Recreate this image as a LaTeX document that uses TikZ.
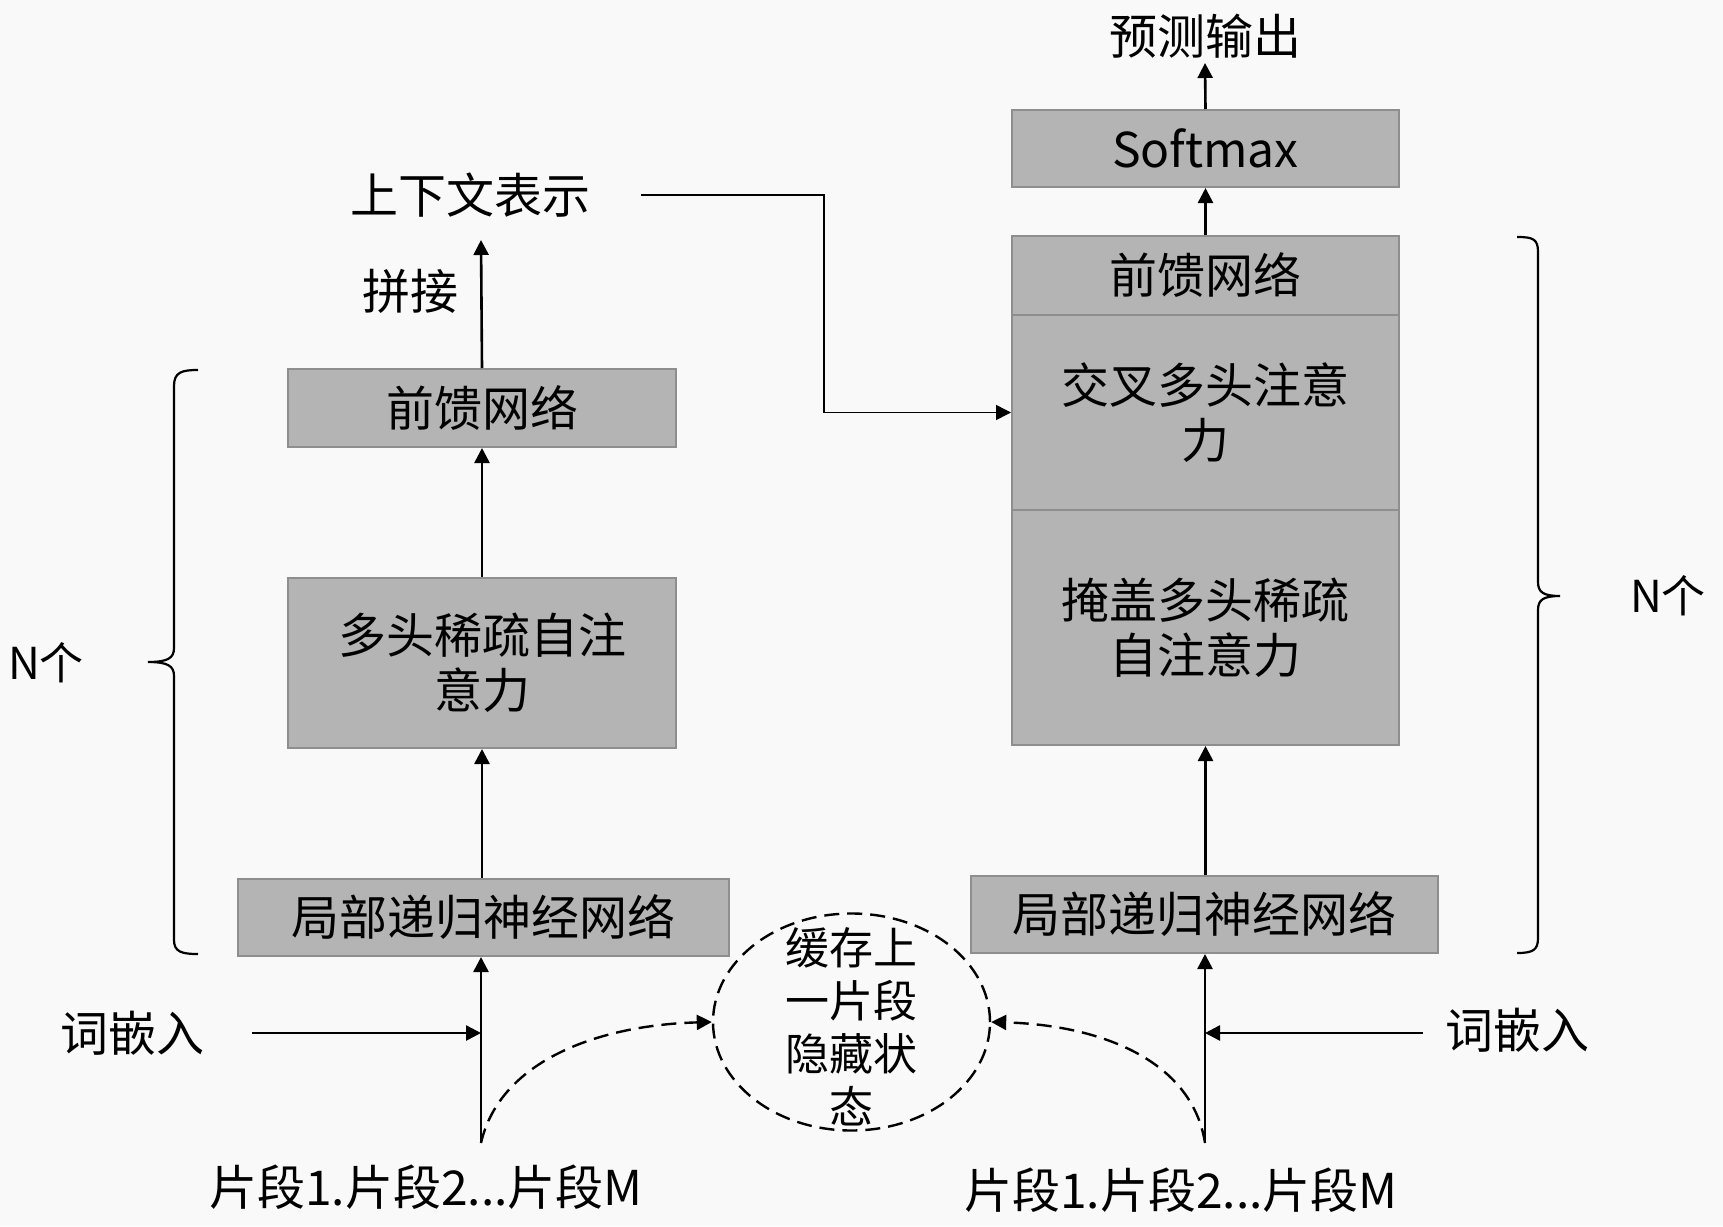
\documentclass[tikz,border=0pt]{standalone}
\usepackage{fontspec}
\setmainfont{Noto Sans CJK SC}
\usetikzlibrary{shapes.geometric,arrows.meta,calc}
\definecolor{bg}{HTML}{F9F9F9}
\definecolor{boxfill}{HTML}{B4B4B4}
\definecolor{boxline}{HTML}{8E8E8E}
\begin{document}
\begin{tikzpicture}[x=0.5pt,y=-0.5pt,
  box/.style={draw=boxline, fill=boxfill, line width=1pt, inner sep=0pt, align=center,
    font=\fontsize{24}{27.5}\selectfont},
  lbl/.style={inner sep=0pt, align=center, font=\fontsize{24}{28}\selectfont},
  arr/.style={-{Triangle[length=7.5pt,width=7.5pt]}, line width=1.3pt},
  thinarr/.style={-{Triangle[length=7.5pt,width=7.5pt]}, line width=0.75pt},
  dasharr/.style={-{Triangle[length=7.5pt,width=7.5pt]}, line width=1.2pt, dash pattern=on 7.5pt off 4pt},
  bracepath/.style={line width=1.1pt}
]
\path[fill=bg] (0,0) rectangle (1723,1226);
\useasboundingbox (0,0) rectangle (1723,1226);

% ---------- left column ----------
\node[lbl] (ctx) at (470,195) {上下文表示};
\node[lbl] (pj) at (410,291) {拼接};
\coordinate (ctxin) at (481,240);
\node[box, minimum width=194pt, minimum height=39pt] (lff) at (482,408) {前馈网络};
\node[box, minimum width=194pt, minimum height=85pt] (lmh) at (482,663) {多头稀疏自注\\意力};
\node[box, minimum width=245.5pt, minimum height=38.5pt] (llr) at (483.5,917.5) {局部递归神经网络};
\node[lbl] (lwetxt) at (132,1033) {词嵌入};
\coordinate (lwe) at (252,1033);
\coordinate (ljoin) at (481,1033);
\coordinate (lsrc) at (481,1143);
\node[lbl] (lseg) at (426,1187) {片段1.片段2...片段M};

\draw[arr] (lff.north) -- (ctxin);
\draw[arr] (lmh.north) -- (lff.south);
\draw[arr] (llr.north -| lmh.south) -- (lmh.south);
\draw[arr] (lsrc) -- (lsrc |- llr.south);
\draw[arr] (lwe) -- (ljoin);

% ---------- right column ----------
\node[lbl] (pred) at (1205,36) {预测输出};
\coordinate (predin) at (1205,63);
\node[box, minimum width=193.5pt, minimum height=38.5pt] (soft) at (1205.5,148.5) {Softmax};
\node[box, minimum width=193.5pt, minimum height=39.5pt] (rff) at (1205.5,275.5) {前馈网络};
\node[box, minimum width=193.5pt, minimum height=97.5pt] (rca) at (1205.5,412.5) {交叉多头注意\\力};
\node[box, minimum width=193.5pt, minimum height=117.5pt] (rmk) at (1205.5,627.5) {掩盖多头稀疏\\自注意力};
\node[box, minimum width=233.5pt, minimum height=38.5pt] (rlr) at (1204.5,914.5) {局部递归神经网络};
\node[lbl] (rwetxt) at (1517,1030) {词嵌入};
\coordinate (rwe) at (1423,1033);
\coordinate (rjoin) at (1205,1033);
\coordinate (rsrc) at (1205,1143);
\node[lbl] (rseg) at (1181,1190) {片段1.片段2...片段M};

\draw[arr] (soft.north) -- (predin);
\draw[arr] (rff.north) -- (soft.south);
\draw[arr] (rlr.north -| rmk.south) -- (rmk.south);
\draw[arr] (rsrc) -- (rsrc |- rlr.south);
\draw[arr] (rwe) -- (rjoin);

% context connector
\draw[thinarr] ($(ctx.east)+(51,0)$) -| ($(rca.west)+(-187,0)$) -- (rca.west);

% ---------- cache ellipse ----------
\node[ellipse, draw, line width=1.2pt, dash pattern=on 7.5pt off 4pt, minimum width=138.5pt, minimum height=108.5pt,
  inner sep=0pt] (ell) at (851.5,1022) {};
\node[inner sep=0pt, align=center, font=\fontsize{22}{26.5}\selectfont] (elltxt) at (851.5,1027)
  {缓存上\\一片段\\隐藏状\\态};
\draw[dasharr] (lsrc) .. controls (500,1060) and (600,1025) .. (ell.west);
\draw[dasharr] (rsrc) .. controls (1192,1060) and (1100,1025) .. (ell.east);

% ---------- braces ----------
\draw[bracepath] (198,370) .. controls (182,370) and (174,372) .. (174,386) -- (174,648)
  .. controls (174,658) and (168,662) .. (148,662)
  .. controls (168,662) and (174,666) .. (174,676) -- (174,940)
  .. controls (174,952) and (182,954) .. (198,954);
\node[lbl, font=\fontsize{22}{26}\selectfont] (ln) at (46,663) {N个};

\draw[bracepath] (1517,237) .. controls (1533,237) and (1538,239) .. (1538,252) -- (1538,582)
  .. controls (1538,592) and (1543,596) .. (1560,596)
  .. controls (1543,596) and (1538,600) .. (1538,610) -- (1538,938)
  .. controls (1538,950) and (1533,953) .. (1517,953);
\node[lbl, font=\fontsize{22}{26}\selectfont] (rn) at (1668,596) {N个};
\end{tikzpicture}
\end{document}
